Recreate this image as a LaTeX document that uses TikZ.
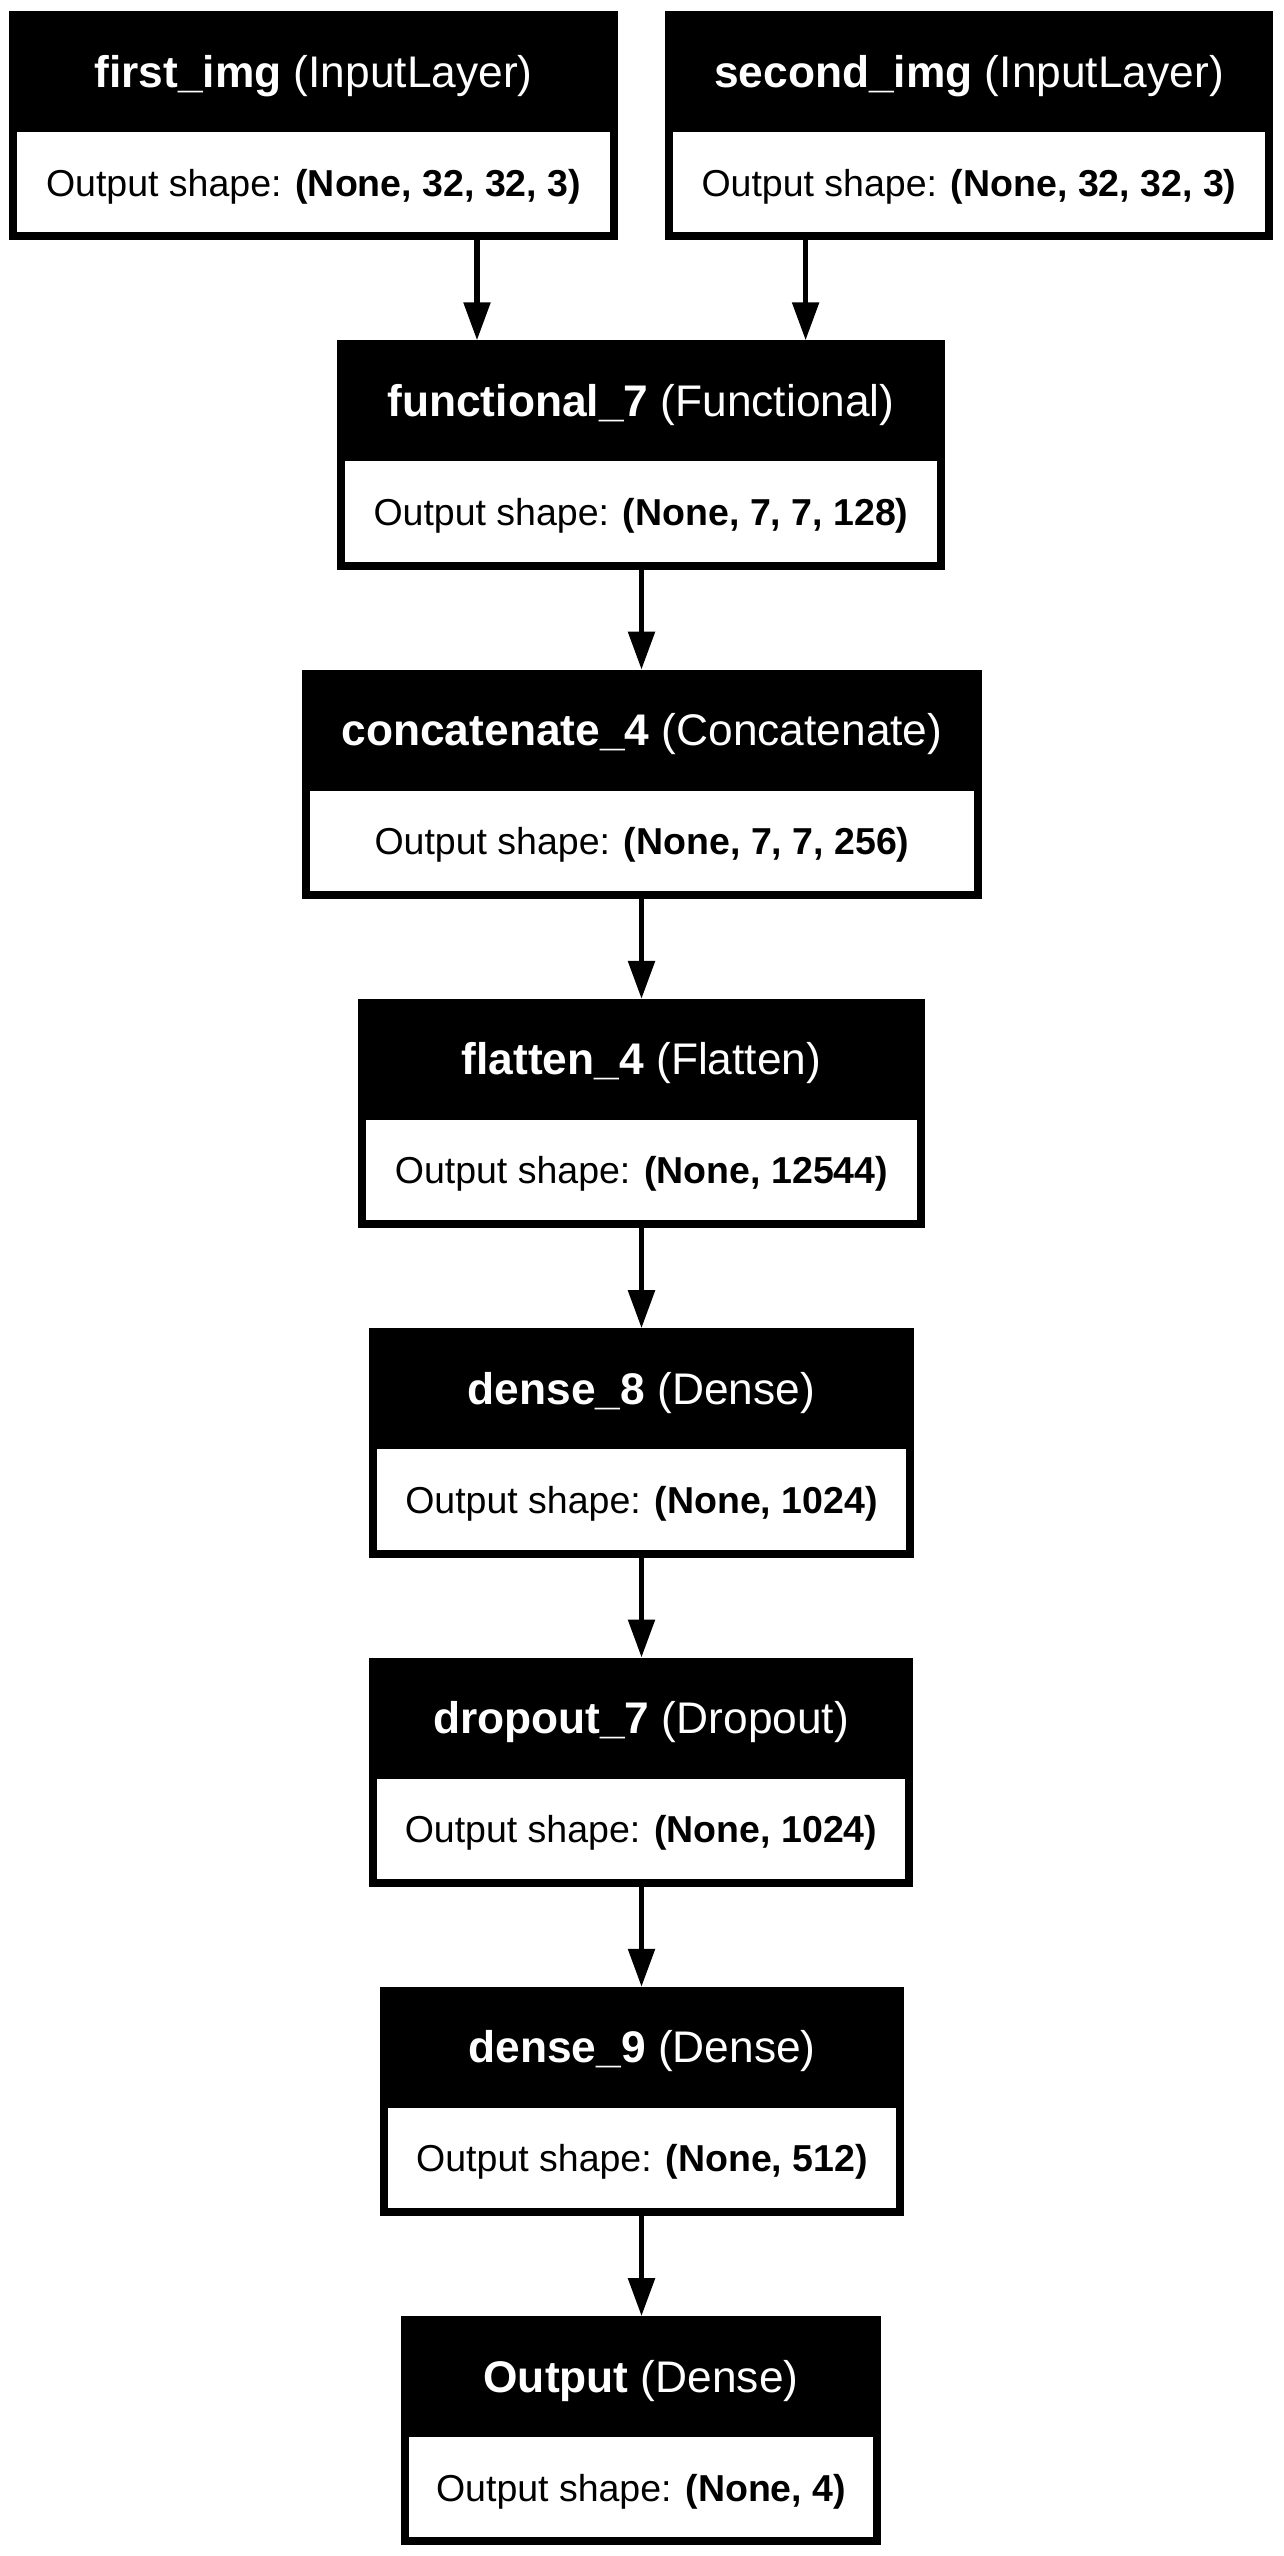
\documentclass[tikz,border=0pt]{standalone}
\usepackage{fontspec}
\setmainfont{Liberation Sans}
\usetikzlibrary{arrows.meta,calc}
\tikzset{
 layerbox/.style={rectangle, fill=black, inner sep=0pt, outer sep=0pt, minimum height=229.3pt, anchor=north},
 ttl/.style={text=white, anchor=base, inner sep=0pt, font=\fontsize{44.3}{50}\selectfont},
 bdy/.style={text=black, anchor=base, inner sep=0pt, font=\fontsize{37.5}{42}\selectfont},
 arr/.style={line width=5.5pt, -{Triangle[length=38pt,width=26pt]}},
}
\newcommand{\mklayer}[7]{%
 \node[layerbox, minimum width=#4pt] (#1) at (#2pt,-#3pt) {};
 \fill[white] ($(#1.north west)+(8pt,-121pt)$) rectangle ($(#1.south east)+(-8pt,8pt)$);
 \node[ttl] (#1-t) at ($(#1.north)+(0,-76pt)$) {\textbf{#5} #6};
 \node[bdy] (#1-b) at ($(#1.north)+(0,-185pt)$) {Output shape: \textbf{#7}};
}
\begin{document}
\begin{tikzpicture}
\useasboundingbox[fill=white] (0,0) rectangle (1283pt,-2556pt);
\mklayer{first}{313.5}{11}{609}{first\_img}{(InputLayer)}{(None, 32, 32, 3)}
\mklayer{second}{969}{11}{608}{second\_img}{(InputLayer)}{(None, 32, 32, 3)}
\mklayer{func}{641}{340.3}{608}{functional\_7}{(Functional)}{(None, 7, 7, 128)}
\mklayer{concat}{642}{669.6}{680}{concatenate\_4}{(Concatenate)}{(None, 7, 7, 256)}
\mklayer{flat}{641.5}{998.9}{567}{flatten\_4}{(Flatten)}{(None, 12544)}
\mklayer{dense8}{641.5}{1328.2}{545}{dense\_8}{(Dense)}{(None, 1024)}
\mklayer{drop}{641}{1657.5}{544}{dropout\_7}{(Dropout)}{(None, 1024)}
\mklayer{dense9}{642}{1986.8}{524}{dense\_9}{(Dense)}{(None, 512)}
\mklayer{out}{641}{2316.1}{480}{Output}{(Dense)}{(None, 4)}
\coordinate (a1) at (477pt,0);
\coordinate (a2) at (805.6pt,0);
\coordinate (ax) at (641.5pt,0);
\draw[arr] (first.south -| a1) -- (func.north -| a1);
\draw[arr] (second.south -| a2) -- (func.north -| a2);
\draw[arr] (func.south -| ax) -- (concat.north -| ax);
\draw[arr] (concat.south -| ax) -- (flat.north -| ax);
\draw[arr] (flat.south -| ax) -- (dense8.north -| ax);
\draw[arr] (dense8.south -| ax) -- (drop.north -| ax);
\draw[arr] (drop.south -| ax) -- (dense9.north -| ax);
\draw[arr] (dense9.south -| ax) -- (out.north -| ax);
\end{tikzpicture}
\end{document}
